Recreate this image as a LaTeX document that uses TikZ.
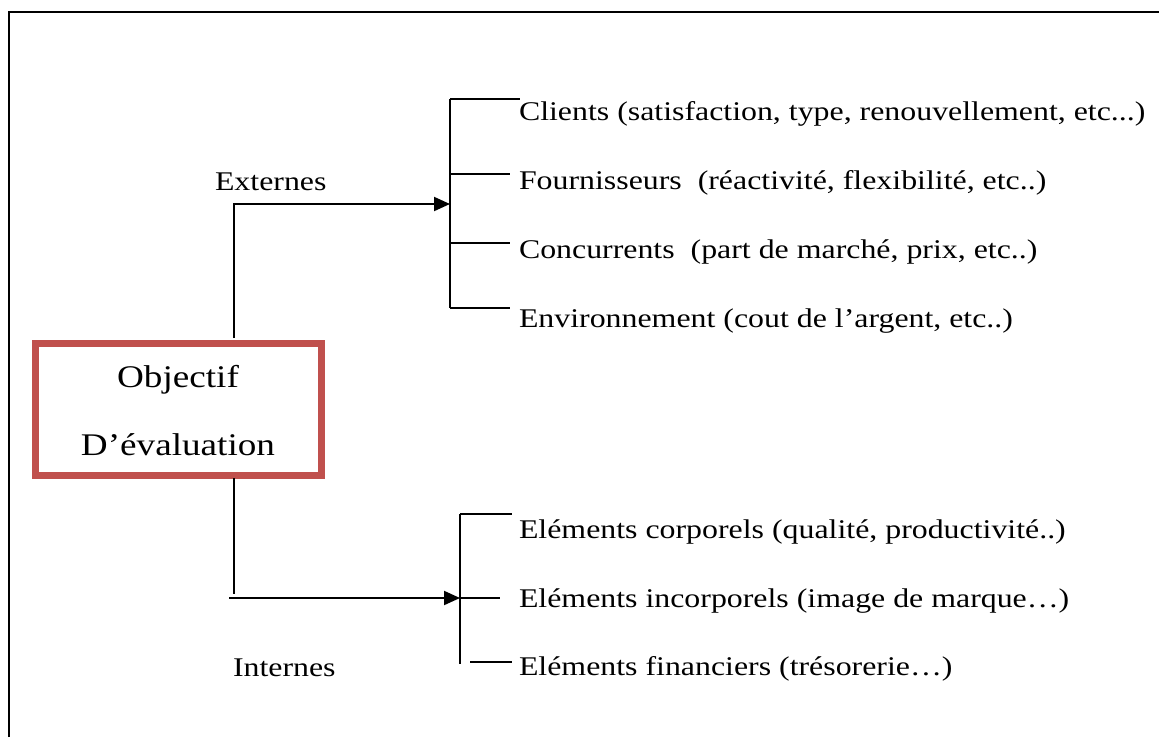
\documentclass[tikz,border=0pt]{standalone}
\usepackage{fontspec}
\setmainfont[FakeStretch=1.18,Ligatures={NoCommon}]{Liberation Serif}
\usetikzlibrary{arrows.meta}
\definecolor{boxred}{RGB}{192,80,77}
\begin{document}
\begin{tikzpicture}[x=1pt,y=-1pt,line width=2pt,
  lbl/.style={anchor=base west,inner sep=0pt,font=\fontsize{27}{31}\selectfont},
  big/.style={anchor=base,inner sep=0pt,font=\fontsize{31.5}{36}\selectfont},
  arr/.style={-{Triangle[length=16pt,width=14pt]}}]
\useasboundingbox (0,0) rectangle (1159,737);
% outer frame
\draw (9,737) -- (9,12) -- (1159,12);

% central box
\node[draw=boxred,line width=7pt,minimum width=286pt,minimum height=132pt,inner sep=0pt] (obj) at (178,409) {};
\node[big] (obj1) at (178,387) {Objectif};
\node[big] (obj2) at (178,455) {D’évaluation};

% branch labels
\node[lbl] (ext) at (214,190) {Externes};
\node[lbl] (int) at (232,676) {Internes};

% external items
\node[lbl] (e1) at (518,120) {Clients (satisfaction, type, renouvellement, etc...)};
\node[lbl] (e2) at (518,189) {Fournisseurs\ \ (réactivité, flexibilité, etc..)};
\node[lbl] (e3) at (518,258) {Concurrents\ \ (part de marché, prix, etc..)};
\node[lbl] (e4) at (518,327) {Environnement (cout de l’argent, etc..)};

% internal items
\node[lbl] (i1) at (518,538) {Eléments corporels (qualité, productivité..)};
\node[lbl] (i2) at (518,607) {Eléments incorporels (image de marque…)};
\node[lbl] (i3) at (518,675) {Eléments financiers (trésorerie…)};

% connector end points
\coordinate (up0) at (234,338);
\coordinate (extb) at (450,204);
\coordinate (dn0) at (234,478);
\coordinate (dn1) at (234,594);
\coordinate (inta) at (229,598);
\coordinate (intb) at (460,598);

% external branch
\draw[arr] (up0) |- (extb);
\draw (450,99) -- (450,308);
\draw (450,99) -- (520,99);
\draw (450,174) -- (510,174);
\draw (450,243) -- (510,243);
\draw (450,308) -- (510,308);

% internal branch
\draw (dn0) -- (dn1);
\draw[arr] (inta) -- (intb);
\draw (460,514) -- (460,664);
\draw (460,514) -- (512,514);
\draw (460,598) -- (500,598);
\draw (470,662) -- (512,662);
\end{tikzpicture}
\end{document}
